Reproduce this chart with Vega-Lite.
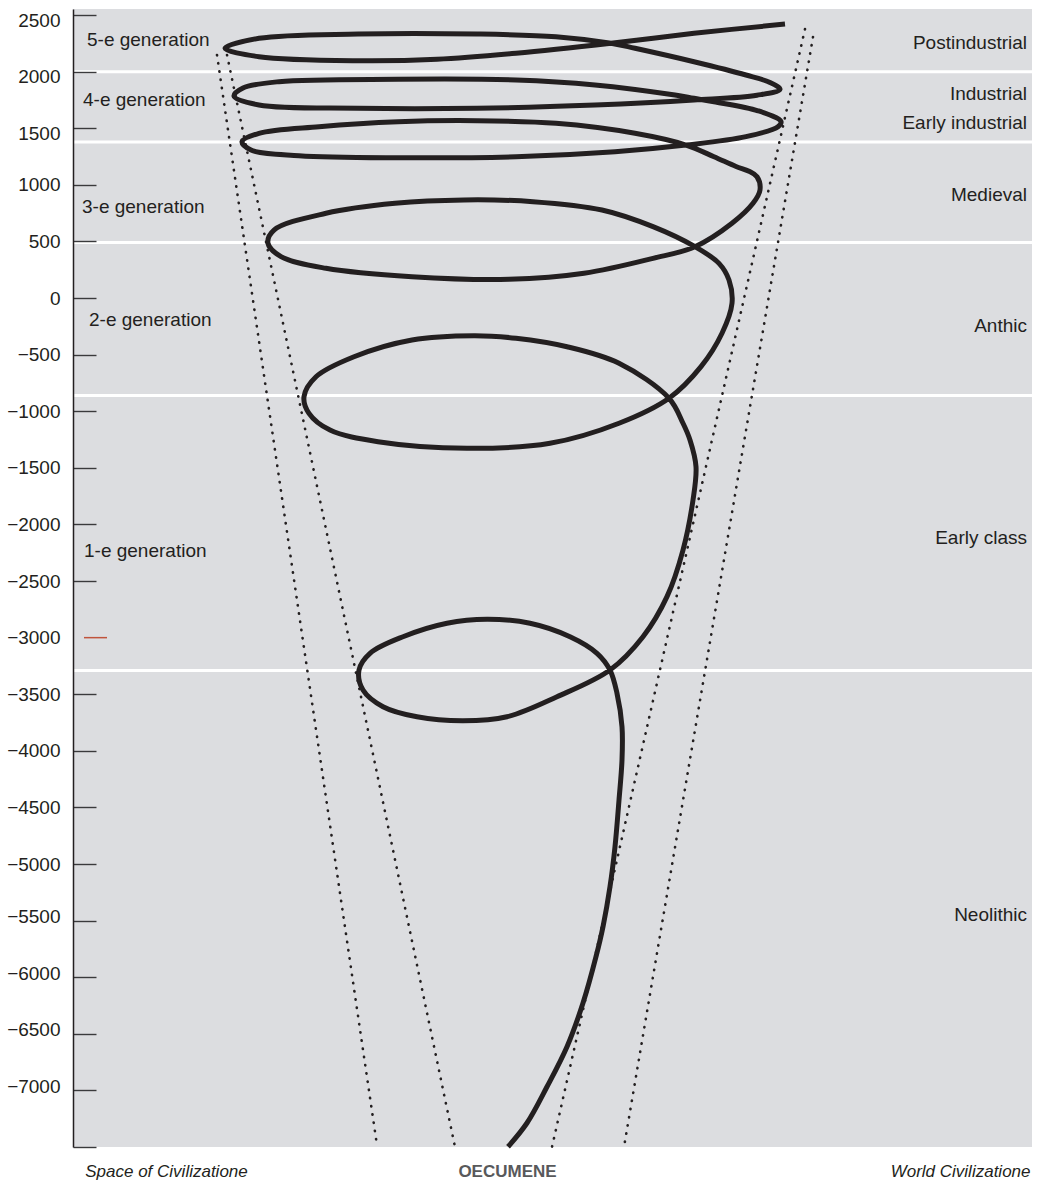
{
  "$schema": "https://vega.github.io/schema/vega-lite/v6.json",
  "width": 959,
  "height": 1138,
  "autosize": {"type": "none"},
  "padding": {"left": 73, "top": 9, "right": 10, "bottom": 39},
  "background": "white",
  "config": {"view": {"fill": "#dcdde0", "stroke": null}, "font": "Liberation Sans"},
  "datasets": {
    "bounds": [{"year": 2000}, {"year": 1380}, {"year": 490}, {"year": -860}, {"year": -3290}],
    "cone": [
      {"g": 1, "i": 0, "x": 217, "year": 2148}, {"g": 1, "i": 1, "x": 377, "year": -7485},
      {"g": 2, "i": 0, "x": 227, "year": 2148}, {"g": 2, "i": 1, "x": 455, "year": -7500},
      {"g": 3, "i": 0, "x": 805, "year": 2377}, {"g": 3, "i": 1, "x": 552, "year": -7500},
      {"g": 4, "i": 0, "x": 813, "year": 2307}, {"g": 4, "i": 1, "x": 624, "year": -7500}
    ],
    "spiral": [
      {"i": 1, "x": 508, "year": -7498}, {"i": 2, "x": 527, "year": -7288}, {"i": 3, "x": 547, "year": -6968},
      {"i": 4, "x": 567, "year": -6614}, {"i": 5, "x": 583, "year": -6228}, {"i": 6, "x": 596, "year": -5819},
      {"i": 7, "x": 603, "year": -5554}, {"i": 8, "x": 610, "year": -5200}, {"i": 9, "x": 615, "year": -4847},
      {"i": 10, "x": 619, "year": -4435}, {"i": 11, "x": 622, "year": -4081}, {"i": 12, "x": 622, "year": -3787},
      {"i": 13, "x": 617, "year": -3492}, {"i": 14, "x": 610, "year": -3286},
      {"i": 15, "x": 597, "year": -3138}, {"i": 16, "x": 570, "year": -2992}, {"i": 17, "x": 530, "year": -2873},
      {"i": 18, "x": 487, "year": -2838}, {"i": 19, "x": 447, "year": -2873}, {"i": 20, "x": 403, "year": -2992},
      {"i": 21, "x": 370, "year": -3138}, {"i": 22, "x": 359, "year": -3286}, {"i": 23, "x": 363, "year": -3463},
      {"i": 24, "x": 383, "year": -3610}, {"i": 25, "x": 417, "year": -3699}, {"i": 26, "x": 463, "year": -3734},
      {"i": 27, "x": 507, "year": -3699}, {"i": 28, "x": 557, "year": -3522}, {"i": 29, "x": 610, "year": -3286},
      {"i": 30, "x": 643, "year": -2992}, {"i": 31, "x": 667, "year": -2638}, {"i": 32, "x": 683, "year": -2226},
      {"i": 33, "x": 693, "year": -1784}, {"i": 34, "x": 696, "year": -1490}, {"i": 35, "x": 690, "year": -1254},
      {"i": 36, "x": 683, "year": -1106}, {"i": 37, "x": 669, "year": -885},
      {"i": 38, "x": 619, "year": -576}, {"i": 39, "x": 567, "year": -430}, {"i": 40, "x": 516, "year": -355},
      {"i": 41, "x": 474, "year": -332}, {"i": 42, "x": 412, "year": -370}, {"i": 43, "x": 354, "year": -518},
      {"i": 44, "x": 316, "year": -695}, {"i": 45, "x": 304, "year": -871}, {"i": 46, "x": 309, "year": -1018},
      {"i": 47, "x": 330, "year": -1166}, {"i": 48, "x": 378, "year": -1269}, {"i": 49, "x": 467, "year": -1327},
      {"i": 50, "x": 550, "year": -1283}, {"i": 51, "x": 619, "year": -1106}, {"i": 52, "x": 669, "year": -885},
      {"i": 53, "x": 701, "year": -606}, {"i": 54, "x": 722, "year": -311}, {"i": 55, "x": 732, "year": -46},
      {"i": 56, "x": 729, "year": 160}, {"i": 57, "x": 719, "year": 307}, {"i": 58, "x": 695, "year": 454},
      {"i": 59, "x": 653, "year": 631}, {"i": 60, "x": 602, "year": 778}, {"i": 61, "x": 533, "year": 852},
      {"i": 62, "x": 464, "year": 867}, {"i": 63, "x": 395, "year": 837}, {"i": 64, "x": 326, "year": 749},
      {"i": 65, "x": 274, "year": 601}, {"i": 66, "x": 268, "year": 484}, {"i": 67, "x": 281, "year": 366},
      {"i": 68, "x": 326, "year": 263}, {"i": 69, "x": 412, "year": 189}, {"i": 70, "x": 509, "year": 166},
      {"i": 71, "x": 584, "year": 219}, {"i": 72, "x": 653, "year": 351}, {"i": 73, "x": 695, "year": 454},
      {"i": 74, "x": 732, "year": 661}, {"i": 75, "x": 753, "year": 837}, {"i": 76, "x": 760, "year": 955},
      {"i": 77, "x": 757, "year": 1072}, {"i": 78, "x": 749, "year": 1120}, {"i": 79, "x": 736, "year": 1163},
      {"i": 80, "x": 714, "year": 1249}, {"i": 81, "x": 686, "year": 1352},
      {"i": 82, "x": 635, "year": 1456}, {"i": 83, "x": 556, "year": 1544}, {"i": 84, "x": 477, "year": 1567},
      {"i": 85, "x": 398, "year": 1558}, {"i": 86, "x": 319, "year": 1514}, {"i": 87, "x": 259, "year": 1456},
      {"i": 88, "x": 242, "year": 1382}, {"i": 89, "x": 251, "year": 1308}, {"i": 90, "x": 299, "year": 1258},
      {"i": 91, "x": 398, "year": 1240}, {"i": 92, "x": 516, "year": 1249}, {"i": 93, "x": 615, "year": 1293},
      {"i": 94, "x": 686, "year": 1352},
      {"i": 95, "x": 746, "year": 1426}, {"i": 96, "x": 778, "year": 1514}, {"i": 97, "x": 781, "year": 1560},
      {"i": 98, "x": 758, "year": 1655}, {"i": 99, "x": 714, "year": 1735}, {"i": 100, "x": 694, "year": 1765},
      {"i": 101, "x": 675, "year": 1794}, {"i": 102, "x": 595, "year": 1883}, {"i": 103, "x": 516, "year": 1927},
      {"i": 104, "x": 398, "year": 1933}, {"i": 105, "x": 279, "year": 1912}, {"i": 106, "x": 243, "year": 1856},
      {"i": 107, "x": 234, "year": 1785}, {"i": 108, "x": 259, "year": 1706}, {"i": 109, "x": 358, "year": 1677},
      {"i": 110, "x": 477, "year": 1677}, {"i": 111, "x": 595, "year": 1706}, {"i": 112, "x": 694, "year": 1750},
      {"i": 113, "x": 757, "year": 1792}, {"i": 114, "x": 780, "year": 1845},
      {"i": 115, "x": 770, "year": 1905}, {"i": 116, "x": 746, "year": 1971}, {"i": 117, "x": 694, "year": 2088},
      {"i": 118, "x": 635, "year": 2207}, {"i": 119, "x": 611, "year": 2251},
      {"i": 120, "x": 556, "year": 2309}, {"i": 121, "x": 477, "year": 2333}, {"i": 122, "x": 358, "year": 2333},
      {"i": 123, "x": 259, "year": 2295}, {"i": 124, "x": 225, "year": 2207}, {"i": 125, "x": 259, "year": 2133},
      {"i": 126, "x": 358, "year": 2097}, {"i": 127, "x": 437, "year": 2110}, {"i": 128, "x": 516, "year": 2163},
      {"i": 129, "x": 611, "year": 2251}, {"i": 130, "x": 694, "year": 2339}, {"i": 131, "x": 785, "year": 2421}
    ],
    "marker": [{"x": 84, "x2": 107, "year": -3000}],
    "gens": [
      {"t": "5-e generation", "x": 87, "year": 2280},
      {"t": "4-e generation", "x": 83, "year": 1750},
      {"t": "3-e generation", "x": 82, "year": 805},
      {"t": "2-e generation", "x": 89, "year": -194},
      {"t": "1-e generation", "x": 84, "year": -2235}
    ],
    "eras": [
      {"t": "Postindustrial", "x": 1027, "year": 2251},
      {"t": "Industrial", "x": 1027, "year": 1803},
      {"t": "Early industrial", "x": 1027, "year": 1544},
      {"t": "Medieval", "x": 1027, "year": 911},
      {"t": "Anthic", "x": 1027, "year": -247},
      {"t": "Early class", "x": 1027, "year": -2120},
      {"t": "Neolithic", "x": 1027, "year": -5450}
    ]
  },
  "layer": [
    {
      "data": {"name": "spiral"},
      "mark": {"type": "line", "color": "#231f20", "strokeWidth": 5, "interpolate": "catmull-rom", "opacity": 0},
      "encoding": {
        "x": {
          "field": "x", "type": "quantitative",
          "scale": {"domain": [73, 1032], "nice": false, "zero": false},
          "axis": {
            "orient": "bottom", "title": null, "domain": false, "ticks": false, "grid": false,
            "values": [166, 507, 1030],
            "labelExpr": "datum.value < 300 ? 'Space of Civilizatione' : datum.value < 800 ? 'OECUMENE' : 'World Civilizatione'",
            "labelFont": "Liberation Sans",
            "labelFontSize": 17,
            "labelFontStyle": {"condition": {"test": "datum.value < 300 || datum.value > 800", "value": "italic"}, "value": "normal"},
            "labelFontWeight": {"condition": {"test": "datum.value > 300 && datum.value < 800", "value": "bold"}, "value": "normal"},
            "labelColor": {"condition": {"test": "datum.value > 300 && datum.value < 800", "value": "#58595b"}, "value": "#231f20"},
            "labelAlign": {"condition": {"test": "datum.value > 800", "value": "right"}, "value": "center"},
            "labelPadding": 16, "labelFlush": false, "labelOverlap": false, "labelBound": false
          }
        },
        "y": {
          "field": "year", "type": "quantitative",
          "scale": {"domain": [-7500, 2554], "nice": false, "zero": false},
          "axis": {
            "orient": "left", "title": null, "grid": false,
            "values": [-7500, -7000, -6500, -6000, -5500, -5000, -4500, -4000, -3500, -3000, -2500, -2000, -1500, -1000, -500, 0, 500, 1000, 1500, 2000, 2500],
            "labelExpr": "datum.value == -7500 ? '' : format(datum.value, 'd')",
            "domainColor": "#231f20", "domainWidth": 1.5,
            "tickColor": {"condition": {"test": "datum.value == -3000", "value": "transparent"}, "value": "#3a3a3c"},
            "tickWidth": 1.4, "tickSize": -23,
            "labelPadding": 36, "labelFont": "Liberation Sans", "labelFontSize": 19, "labelColor": "#231f20",
            "labelOffset": {"condition": [{"test": "datum.value >= 1500", "value": 5}, {"test": "datum.value <= -5500", "value": -4}], "value": 0},
            "labelOverlap": false, "labelBound": false, "labelFlush": false, "zindex": 1
          }
        },
        "order": {"field": "i", "type": "quantitative"}
      }
    },
    {
      "data": {"name": "bounds"},
      "mark": {"type": "rule", "color": "white", "strokeWidth": 3},
      "encoding": {
        "y": {"field": "year", "type": "quantitative", "scale": {"domain": [-7500, 2554], "nice": false, "zero": false}}
      }
    },
    {
      "data": {"name": "cone"},
      "mark": {"type": "line", "color": "#231f20", "strokeWidth": 2.6, "strokeDash": [0.4, 7.9], "strokeCap": "round"},
      "encoding": {
        "x": {"field": "x", "type": "quantitative", "scale": {"domain": [73, 1032], "nice": false, "zero": false}},
        "y": {"field": "year", "type": "quantitative", "scale": {"domain": [-7500, 2554], "nice": false, "zero": false}},
        "detail": {"field": "g", "type": "nominal"},
        "order": {"field": "i", "type": "quantitative"}
      }
    },
    {
      "data": {"name": "spiral"},
      "mark": {"type": "line", "color": "#231f20", "strokeWidth": 5, "interpolate": "catmull-rom", "strokeJoin": "round"},
      "encoding": {
        "x": {"field": "x", "type": "quantitative", "scale": {"domain": [73, 1032], "nice": false, "zero": false}},
        "y": {"field": "year", "type": "quantitative", "scale": {"domain": [-7500, 2554], "nice": false, "zero": false}},
        "order": {"field": "i", "type": "quantitative"}
      }
    },
    {
      "data": {"name": "marker"},
      "mark": {"type": "rule", "color": "#c0543c", "strokeWidth": 1.5},
      "encoding": {
        "x": {"field": "x", "type": "quantitative", "scale": {"domain": [73, 1032], "nice": false, "zero": false}},
        "x2": {"field": "x2"},
        "y": {"field": "year", "type": "quantitative", "scale": {"domain": [-7500, 2554], "nice": false, "zero": false}}
      }
    },
    {
      "data": {"name": "gens"},
      "mark": {"type": "text", "align": "left", "baseline": "middle", "font": "Liberation Sans", "fontSize": 19, "color": "#231f20"},
      "encoding": {
        "x": {"field": "x", "type": "quantitative", "scale": {"domain": [73, 1032], "nice": false, "zero": false}},
        "y": {"field": "year", "type": "quantitative", "scale": {"domain": [-7500, 2554], "nice": false, "zero": false}},
        "text": {"field": "t"}
      }
    },
    {
      "data": {"name": "eras"},
      "mark": {"type": "text", "align": "right", "baseline": "middle", "font": "Liberation Sans", "fontSize": 19, "color": "#231f20"},
      "encoding": {
        "x": {"field": "x", "type": "quantitative", "scale": {"domain": [73, 1032], "nice": false, "zero": false}},
        "y": {"field": "year", "type": "quantitative", "scale": {"domain": [-7500, 2554], "nice": false, "zero": false}},
        "text": {"field": "t"}
      }
    }
  ]
}
